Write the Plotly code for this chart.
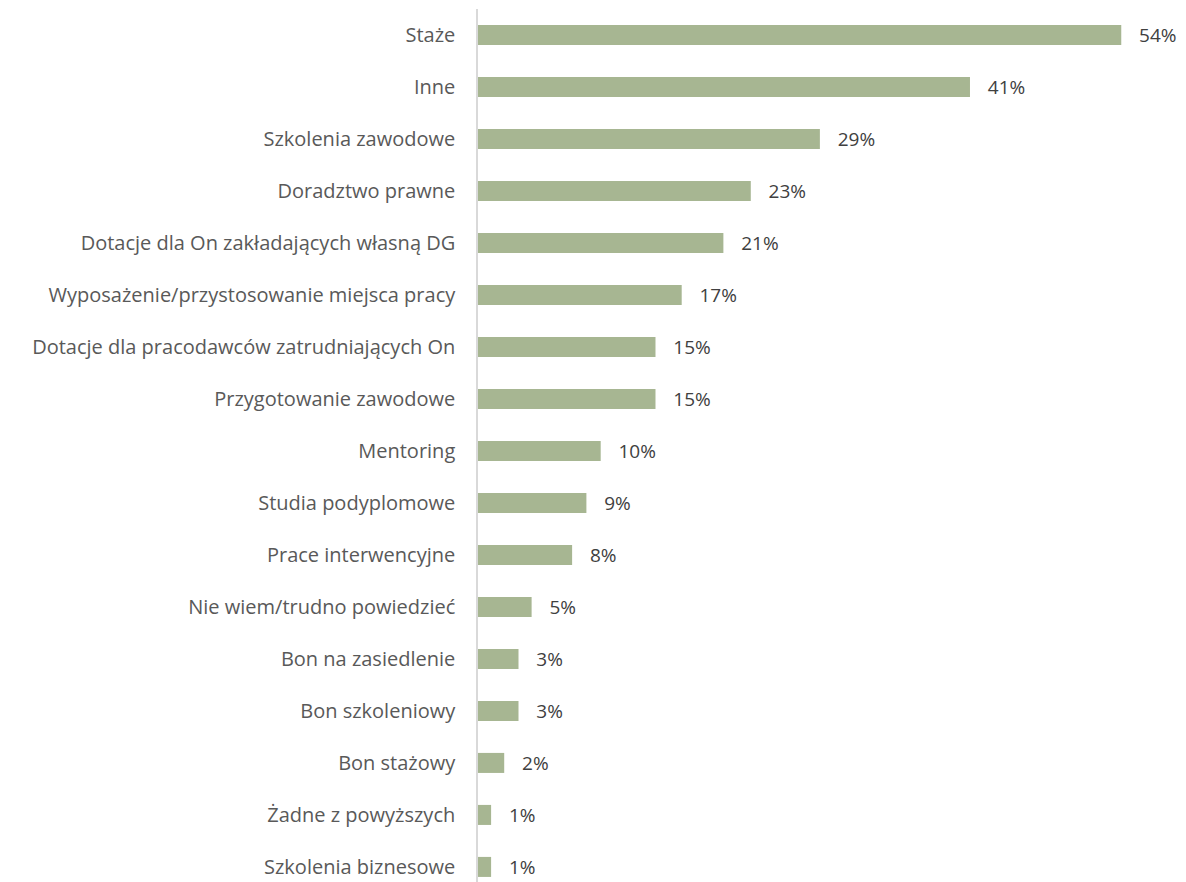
import plotly.graph_objects as go

categories = [
    "Staże", "Inne", "Szkolenia zawodowe", "Doradztwo prawne",
    "Dotacje dla On zakładających własną DG",
    "Wyposażenie/przystosowanie miejsca pracy",
    "Dotacje dla pracodawców zatrudniających On",
    "Przygotowanie zawodowe", "Mentoring", "Studia podyplomowe",
    "Prace interwencyjne", "Nie wiem/trudno powiedzieć",
    "Bon na zasiedlenie", "Bon szkoleniowy", "Bon stażowy",
    "Żadne z powyższych", "Szkolenia biznesowe",
]
values = [54.0, 41.3, 28.7, 22.9, 20.6, 17.1, 14.9, 14.9, 10.3, 9.1,
          7.9, 4.5, 3.4, 3.4, 2.2, 1.1, 1.1]
labels = ["54%", "41%", "29%", "23%", "21%", "17%", "15%", "15%", "10%",
          "9%", "8%", "5%", "3%", "3%", "2%", "1%", "1%"]

FONT = "Open Sans"

fig = go.Figure(go.Bar(
    x=values, y=categories, orientation="h",
    marker=dict(color="#A7B692", line=dict(width=0)),
    width=0.385,
    text=labels, texttemplate="   %{text}", textposition="outside",
    constraintext="none",
    textfont=dict(size=19, color="#404040", family=FONT),
    cliponaxis=False,
))

fig.update_layout(
    width=1178, height=874,
    margin=dict(l=470, r=29, t=1, b=0),
    paper_bgcolor="white", plot_bgcolor="white",
    font=dict(family=FONT, size=20, color="#595959"),
    showlegend=False,
    xaxis=dict(range=[0, 57], visible=False, showgrid=False, zeroline=False),
    yaxis=dict(
        categoryorder="array", categoryarray=categories,
        range=[16.29, -0.5],
        showline=True, linecolor="#D9D9D9", linewidth=1.5,
        ticks="", showgrid=False, zeroline=False,
        ticklabelstandoff=17,
        tickfont=dict(size=20, color="#595959", family=FONT),
    ),
)

fig.write_html("out.html")
